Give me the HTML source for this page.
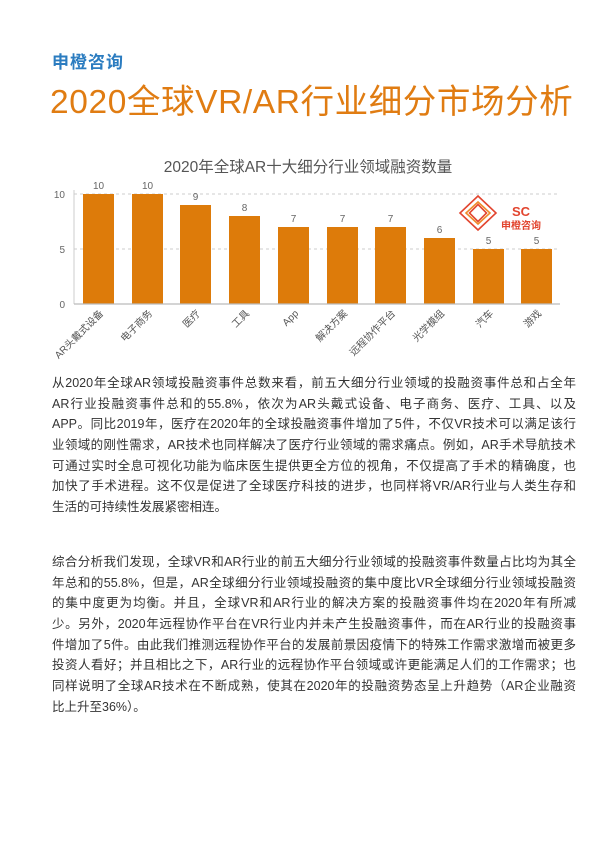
<!DOCTYPE html>
<html><head><meta charset="utf-8"><style>
html,body{margin:0;padding:0;background:#fff;}
body{width:600px;height:860px;position:relative;overflow:hidden;font-family:"Liberation Sans","Noto Sans CJK SC",sans-serif;}
.brand{position:absolute;left:52px;top:48px;font-size:17px;font-weight:bold;color:#2b7cc0;letter-spacing:1px;}
.h1{position:absolute;left:50px;top:74px;font-size:33.5px;color:#e07c12;white-space:nowrap;letter-spacing:0.6px;}
.p{position:absolute;left:52px;width:524px;font-size:12.5px;color:#333;line-height:20.7px;}
.p div{white-space:nowrap;text-align:justify;text-align-last:justify;width:524px;overflow:hidden;height:20.7px;}
.p div.l{text-align-last:left;}
</style></head><body>
<div class="brand">申橙咨询</div>
<div class="h1">2020全球VR/AR行业细分市场分析</div>
<svg width="600" height="380" style="position:absolute;left:0;top:0" xmlns="http://www.w3.org/2000/svg" font-family="Liberation Sans, Noto Sans CJK SC, sans-serif">
<text x="308" y="172" text-anchor="middle" font-size="15.5" fill="#555">2020年全球AR十大细分行业领域融资数量</text>
<line x1="74" y1="194" x2="560" y2="194" stroke="#ccc" stroke-dasharray="3,3"/>
<line x1="74" y1="249" x2="560" y2="249" stroke="#ccc" stroke-dasharray="3,3"/>
<line x1="74" y1="190" x2="74" y2="304" stroke="#ccc"/>
<g font-size="10" fill="#666" text-anchor="end">
<text x="65" y="198">10</text><text x="65" y="253">5</text><text x="65" y="308">0</text>
</g>
<g fill="#dd7b0a">
<rect x="83" y="194" width="31" height="110"/>
<rect x="132" y="194" width="31" height="110"/>
<rect x="180" y="205" width="31" height="99"/>
<rect x="229" y="216" width="31" height="88"/>
<rect x="278" y="227" width="31" height="77"/>
<rect x="327" y="227" width="31" height="77"/>
<rect x="375" y="227" width="31" height="77"/>
<rect x="424" y="238" width="31" height="66"/>
<rect x="473" y="249" width="31" height="55"/>
<rect x="521" y="249" width="31" height="55"/>
</g>
<line x1="74" y1="304" x2="560" y2="304" stroke="#bbb" stroke-width="1.2"/>
<g font-size="10" fill="#666" text-anchor="middle">
<text x="98.5" y="189">10</text><text x="147.5" y="189">10</text><text x="195.5" y="200">9</text>
<text x="244.5" y="211">8</text><text x="293.5" y="222">7</text><text x="342.5" y="222">7</text>
<text x="390.5" y="222">7</text><text x="439.5" y="233">6</text><text x="488.5" y="244">5</text><text x="536.5" y="244">5</text>
</g>
<g font-size="10" fill="#555" text-anchor="end">
<text transform="translate(104,314) rotate(-45)">AR头戴式设备</text>
<text transform="translate(153,314) rotate(-45)">电子商务</text>
<text transform="translate(201,314) rotate(-45)">医疗</text>
<text transform="translate(250,314) rotate(-45)">工具</text>
<text transform="translate(299,314) rotate(-45)">App</text>
<text transform="translate(348,314) rotate(-45)">解决方案</text>
<text transform="translate(396,314) rotate(-45)">远程协作平台</text>
<text transform="translate(445,314) rotate(-45)">光学模组</text>
<text transform="translate(494,314) rotate(-45)">汽车</text>
<text transform="translate(542,314) rotate(-45)">游戏</text>
</g>
<g fill="none" stroke="#e2452f" stroke-width="1.6">
<polygon points="478,196 496,213 478,230 460,213"/>
<polygon points="478,202 490,213 478,224 466,213" stroke="#f08a2a"/>
<rect x="472" y="207" width="12" height="12" transform="rotate(45 478 213)" stroke="#e2452f"/>
</g>
<text x="521" y="216" text-anchor="middle" font-size="13" font-weight="bold" fill="#e2452f">SC</text>
<text x="521" y="229" text-anchor="middle" font-size="10" font-weight="bold" fill="#e2452f">申橙咨询</text>
</svg>
<div class="p" style="top:373px">
<div>从2020年全球AR领域投融资事件总数来看，前五大细分行业领域的投融资事件总和占全年</div>
<div>AR行业投融资事件总和的55.8%，依次为AR头戴式设备、电子商务、医疗、工具、以及</div>
<div>APP。同比2019年，医疗在2020年的全球投融资事件增加了5件，不仅VR技术可以满足该行</div>
<div>业领域的刚性需求，AR技术也同样解决了医疗行业领域的需求痛点。例如，AR手术导航技术</div>
<div>可通过实时全息可视化功能为临床医生提供更全方位的视角，不仅提高了手术的精确度，也</div>
<div>加快了手术进程。这不仅是促进了全球医疗科技的进步，也同样将VR/AR行业与人类生存和</div>
<div class="l">生活的可持续性发展紧密相连。</div>
</div>
<div class="p" style="top:552px">
<div>综合分析我们发现，全球VR和AR行业的前五大细分行业领域的投融资事件数量占比均为其全</div>
<div>年总和的55.8%，但是，AR全球细分行业领域投融资的集中度比VR全球细分行业领域投融资</div>
<div>的集中度更为均衡。并且，全球VR和AR行业的解决方案的投融资事件均在2020年有所减</div>
<div>少。另外，2020年远程协作平台在VR行业内并未产生投融资事件，而在AR行业的投融资事</div>
<div>件增加了5件。由此我们推测远程协作平台的发展前景因疫情下的特殊工作需求激增而被更多</div>
<div>投资人看好；并且相比之下，AR行业的远程协作平台领域或许更能满足人们的工作需求；也</div>
<div>同样说明了全球AR技术在不断成熟，使其在2020年的投融资势态呈上升趋势（AR企业融资</div>
<div class="l">比上升至36%）。</div>
</div>
</body></html>
